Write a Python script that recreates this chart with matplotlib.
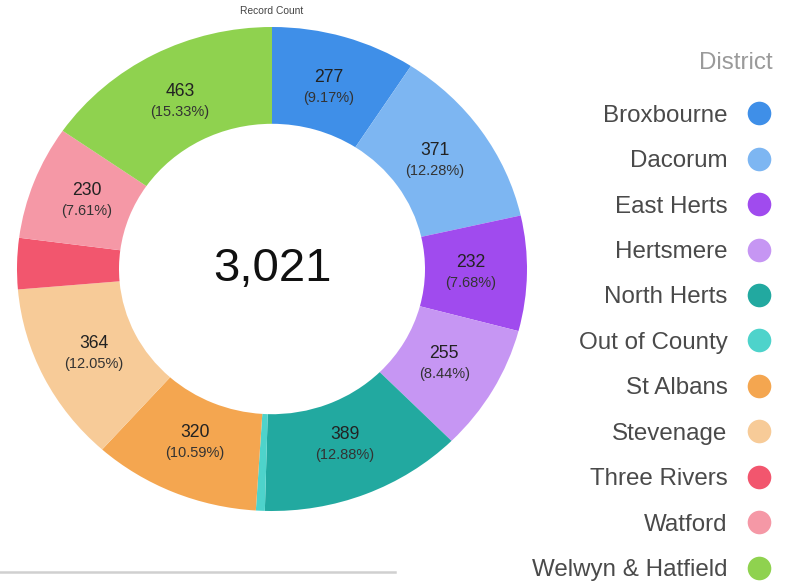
import matplotlib.pyplot as plt
from matplotlib.lines import Line2D
import numpy as np

districts = ["Broxbourne", "Dacorum", "East Herts", "Hertsmere", "North Herts",
             "Out of County", "St Albans", "Stevenage", "Three Rivers", "Watford",
             "Welwyn & Hatfield"]
counts = [277, 371, 232, 255, 389, 17, 320, 364, 103, 230, 463]
colors = ["#3f8fe8", "#7db6f2", "#a04bee", "#c696f3", "#22a9a0", "#4ed3cb",
          "#f4a650", "#f7cb98", "#f2566e", "#f598a6", "#8fd24f"]

plt.rcParams["font.family"] = ["Liberation Sans", "DejaVu Sans"]

fig = plt.figure(figsize=(7.9, 5.84), dpi=100)
ax = fig.add_axes([17 / 790, 73 / 584, 510 / 790, 484 / 584])

total = sum(counts)
wedges, _ = ax.pie(counts, colors=colors, startangle=90, counterclock=False,
                   radius=1.0, wedgeprops=dict(width=0.4, linewidth=0))
ax.set_aspect("auto")
ax.set_xlim(-1, 1)
ax.set_ylim(-1, 1)

# slice labels (small slices get none)
for w, c in zip(wedges, counts):
    pct = c / total * 100
    if pct < 4:
        continue
    mid = np.deg2rad((w.theta1 + w.theta2) / 2)
    r = 0.78
    x, y = r * np.cos(mid), r * np.sin(mid)
    ax.annotate(str(c), (x, y), xytext=(0, 7.4), textcoords="offset points",
                ha="center", va="center", fontsize=12.7, color="#222222")
    ax.annotate(f"({pct:.2f}%)", (x, y), xytext=(0, -7.4), textcoords="offset points",
                ha="center", va="center", fontsize=10.5, color="#333333")

ax.text(0, 0, f"{total:,}", ha="center", va="center", fontsize=34, color="#111111")

fig.text(272 / 790, 1 - 11 / 584, "Record Count", ha="center", va="center",
         fontsize=7.4, color="#444444")

fig.text(773 / 790, 1 - 63 / 584, "District", ha="right", va="center",
         fontsize=17.4, color="#9a9a9a")

handles = [Line2D([], [], marker="o", linestyle="", markersize=17,
                  markerfacecolor=col, markeredgewidth=0) for col in colors]
leg = fig.legend(handles, districts, loc="upper right",
                 bbox_to_anchor=(786 / 790, 1 - 95 / 584), frameon=False,
                 markerfirst=False, fontsize=17.4, labelspacing=0.97,
                 handlelength=1.4, handletextpad=0.62, borderaxespad=0)
for t in leg.get_texts():
    t.set_color("#4a4a4a")

fig.add_artist(Line2D([0, 395 / 790], [1 - 572 / 584, 1 - 572 / 584],
                      color="#d0d0d0", linewidth=1.8, transform=fig.transFigure))

fig.savefig("out.png", dpi=100)
